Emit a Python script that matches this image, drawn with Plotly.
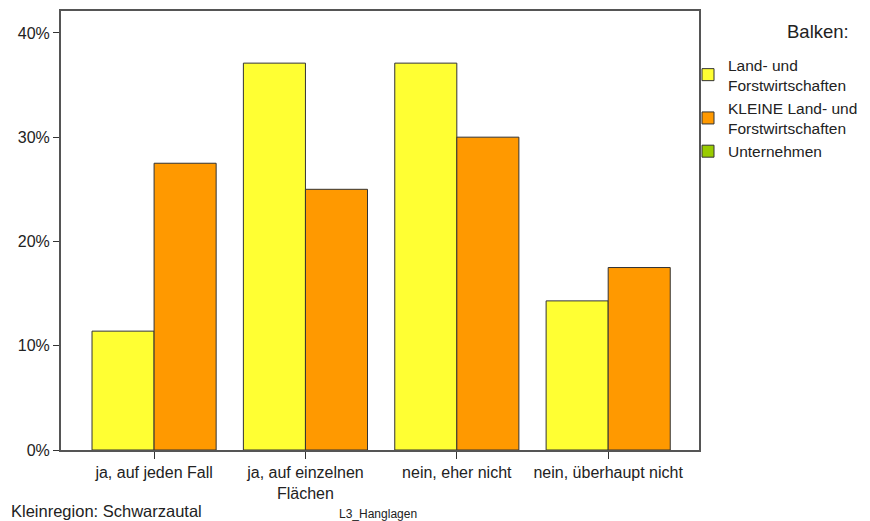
import plotly.graph_objects as go

categories = ["ja, auf jeden Fall", "ja, auf einzelnen<br>Flächen", "nein, eher nicht", "nein, überhaupt nicht"]
land_forst = [11.4, 37.1, 37.1, 14.3]
kleine_land_forst = [27.5, 25.0, 30.0, 17.5]
unternehmen = [None, None, None, None]
y_ticks = [0, 10, 20, 30, 40]
y_labels = ["0%", "10%", "20%", "30%", "40%"]

font = "Liberation Sans, Arial, sans-serif"
x_pos = list(range(len(categories)))

# page has an 8px body margin, so lay out in page pixels and shift
OFF = 8
W, H = 870 - OFF, 521 - OFF
plot_l, plot_r, plot_t, plot_b = 61 - OFF, 699 - OFF, 11 - OFF, 450 - OFF


def px(x, y):
    return (x - OFF - plot_l) / (plot_r - plot_l), (plot_b - (y - OFF)) / (plot_b - plot_t)


fig = go.Figure()
series = [
    ("Land- und<br>Forstwirtschaften", land_forst, "#ffff33", -0.41),
    ("KLEINE Land- und<br>Forstwirtschaften", kleine_land_forst, "#ff9900", 0.0),
    ("Unternehmen", unternehmen, "#99cc00", 0.0),
]
for name, values, color, offset in series:
    fig.add_trace(
        go.Bar(
            x=x_pos,
            y=values,
            name=name,
            offset=offset,
            width=0.41,
            marker={"color": color, "line": {"color": "#333333", "width": 1}},
        )
    )

notes = [
    ("Balken:", 851, 32, "right", 18.5),
    ("Kleinregion: Schwarzautal", 9, 511, "left", 16.5),
    ("L3_Hanglagen", 337, 514, "left", 12),
]
for text, x, y, anchor, size in notes:
    ax, ay = px(x, y)
    fig.add_annotation(
        text=text, x=ax, y=ay, xref="paper", yref="paper", showarrow=False,
        xanchor=anchor, yanchor="middle", font={"size": size, "color": "#222222"},
    )

lx, ly = px(688, 48)
fig.update_layout(
    width=W,
    height=H,
    barmode="overlay",
    plot_bgcolor="white",
    paper_bgcolor="white",
    font={"family": font, "size": 16, "color": "#222222"},
    margin={"l": plot_l, "r": W - plot_r, "t": plot_t, "b": H - plot_b, "pad": 0, "autoexpand": False},
    legend={
        "x": lx, "y": ly, "xanchor": "left", "yanchor": "top",
        "font": {"size": 15.5}, "tracegroupgap": 0, "itemwidth": 30,
        "bgcolor": "rgba(0,0,0,0)",
    },
    xaxis={
        "range": [-0.615, 3.6],
        "tickvals": x_pos,
        "ticktext": categories,
        "ticks": "outside",
        "ticklen": 7,
        "tickcolor": "#333333",
        "tickfont": {"size": 16},
        "showline": True,
        "linecolor": "#555555",
        "linewidth": 2,
        "mirror": True,
        "showgrid": False,
        "zeroline": False,
    },
    yaxis={
        "range": [0, 42.1],
        "tickvals": y_ticks,
        "ticktext": y_labels,
        "ticks": "outside",
        "ticklen": 6,
        "tickcolor": "#333333",
        "tickfont": {"size": 16},
        "showline": True,
        "linecolor": "#555555",
        "linewidth": 2,
        "mirror": True,
        "showgrid": False,
        "zeroline": False,
    },
)

fig.write_html("out.html")
